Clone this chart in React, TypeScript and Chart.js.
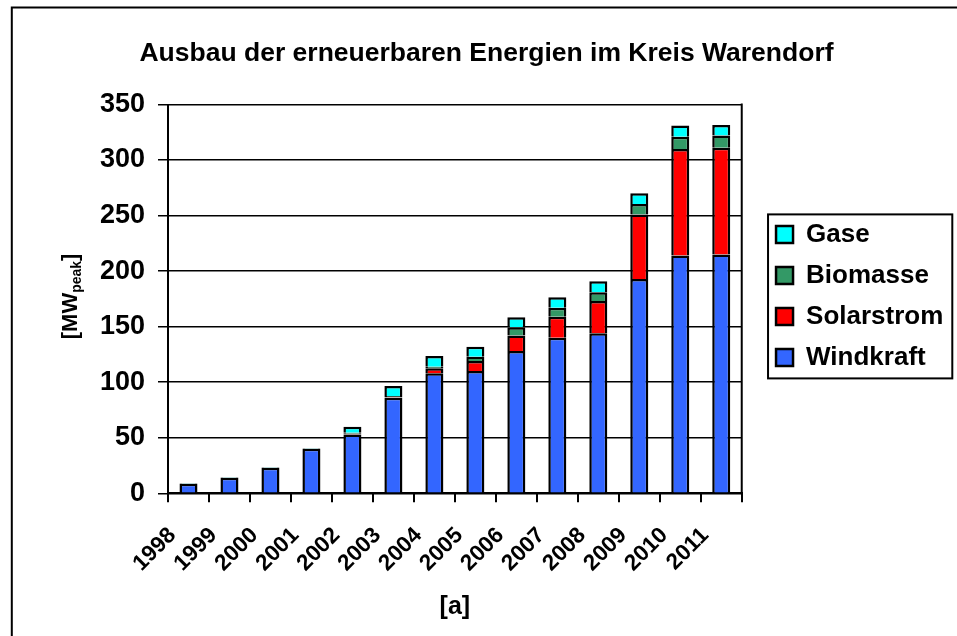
import React, { useEffect, useRef } from "react";
import { Chart, registerables } from "chart.js";

Chart.register(...registerables);

const years = ["1998", "1999", "2000", "2001", "2002", "2003", "2004", "2005", "2006", "2007", "2008", "2009", "2010", "2011"];
const windkraft = [8.5, 14, 23, 40, 53, 86, 108, 110, 128, 140, 144, 193, 214, 215];
const solarstrom = [0, 0, 0, 0, 0.5, 0.5, 4.5, 9, 14, 19, 29, 58, 96, 96];
const biomasse = [0, 0, 0, 0, 1, 1, 1.5, 4, 7.5, 8, 8, 9.5, 11, 11];
const gase = [0.5, 0.5, 0.5, 0.5, 5.5, 9, 9.5, 9, 9, 9.5, 10, 9.5, 10, 9.5];

const titleText = "Ausbau der erneuerbaren Energien im Kreis Warendorf";
const xTitle = "[a]";
const yTitleMain = "[MW";
const yTitleSub = "peak";
const yTitleEnd = "]";

const FONT = '"Liberation Sans", Arial, Helvetica, sans-serif';

const decorPlugin = {
  id: "decor",
  afterLayout(chart: any) {
    const lg = chart.legend;
    if (lg) {
      lg.left += 19.3;
      lg.right += 19.3;
      lg.top -= 3;
      lg.bottom -= 3;
    }
  },
  afterDraw(chart: any) {
    const ctx = chart.ctx as CanvasRenderingContext2D;
    const area = chart.chartArea;
    ctx.save();
    ctx.strokeStyle = "#000";
    // outer frame (top and left visible)
    ctx.lineWidth = 2;
    ctx.beginPath();
    ctx.moveTo(11.8, chart.height + 2);
    ctx.lineTo(11.8, 7.5);
    ctx.lineTo(chart.width + 2, 7.5);
    ctx.stroke();

    // right border of plot area
    ctx.beginPath();
    ctx.moveTo(area.right, area.top - 1);
    ctx.lineTo(area.right, area.bottom + 1);
    ctx.stroke();

    // legend frame
    const boxes = chart.legend && chart.legend.legendHitBoxes ? chart.legend.legendHitBoxes : [];
    if (boxes.length) {
      let l = Infinity, t = Infinity, r = -Infinity, b = -Infinity;
      for (const hb of boxes) {
        l = Math.min(l, hb.left);
        t = Math.min(t, hb.top);
        r = Math.max(r, hb.left + hb.width);
        b = Math.max(b, hb.top + hb.height);
      }
      ctx.lineWidth = 2;
      ctx.strokeRect(l - 8, t - 7, r - l + 17, b - t + 15);
    }

    // y axis title with subscript
    ctx.fillStyle = "#000";
    ctx.textBaseline = "alphabetic";
    ctx.textAlign = "left";
    const mainFont = `bold 22px ${FONT}`;
    const subFont = `bold 14px ${FONT}`;
    ctx.font = mainFont;
    const w1 = ctx.measureText(yTitleMain).width;
    const w3 = ctx.measureText(yTitleEnd).width;
    ctx.font = subFont;
    const w2 = ctx.measureText(yTitleSub).width;
    const total = w1 + w2 + w3;
    const cx = area.left - 91;
    const cy = (area.top + area.bottom) / 2 - 2.5;
    ctx.translate(cx, cy);
    ctx.rotate(-Math.PI / 2);
    const x0 = -total / 2;
    ctx.font = mainFont;
    ctx.fillText(yTitleMain, x0, 0);
    ctx.font = subFont;
    ctx.fillText(yTitleSub, x0 + w1, 4);
    ctx.font = mainFont;
    ctx.fillText(yTitleEnd, x0 + w1 + w2, 0);
    ctx.restore();
  },
};

export default function App() {
  const ref = useRef<HTMLCanvasElement | null>(null);

  useEffect(() => {
    if (!ref.current) return;
    const common = {
      borderColor: "#000",
      borderWidth: 2.5,
      barPercentage: 0.44,
      categoryPercentage: 1,
    };
    const chart = new Chart(ref.current, {
      type: "bar",
      data: {
        labels: years,
        datasets: [
          { label: "Windkraft", data: windkraft, backgroundColor: "#3366FF", ...common },
          { label: "Solarstrom", data: solarstrom, backgroundColor: "#FF0000", ...common },
          { label: "Biomasse", data: biomasse, backgroundColor: "#339966", ...common },
          { label: "Gase", data: gase, backgroundColor: "#00FFFF", ...common },
        ],
      },
      options: {
        animation: false,
        responsive: false,
        events: [],
        color: "#000",
        font: { family: FONT },
        layout: { padding: { left: 39, right: 23, top: 8, bottom: 0 } },
        plugins: {
          tooltip: { enabled: false },
          title: {
            display: true,
            text: titleText,
            color: "#000",
            font: { family: FONT, size: 26.5, weight: "bold" },
            padding: { top: 29.5, bottom: 35.2 },
          },
          legend: {
            position: "right",
            fullSize: false,
            reverse: true,
            labels: {
              boxWidth: 17,
              boxHeight: 17,
              padding: 15,
              color: "#000",
              font: { family: FONT, size: 26, weight: "bold" },
            },
          },
        },
        scales: {
          x: {
            stacked: true,
            offset: true,
            afterFit: (scale: any) => {
              scale.height = 142.7;
            },
            grid: {
              offset: true,
              drawOnChartArea: false,
              drawTicks: true,
              tickLength: 9,
              color: "#000",
              lineWidth: 2,
            },
            border: { display: true, color: "#000", width: 2 },
            ticks: {
              color: "#000",
              minRotation: 45,
              maxRotation: 45,
              padding: 20,
              labelOffset: -16,
              autoSkip: false,
              font: { family: FONT, size: 22.5, weight: "bold" },
            },
            title: {
              display: true,
              text: xTitle,
              color: "#000",
              font: { family: FONT, size: 25, weight: "bold" },
              padding: { top: 0, bottom: 14 },
            },
          },
          y: {
            stacked: true,
            min: 0,
            max: 350,
            afterFit: (scale: any) => {
              scale.width = 129;
            },
            ticks: {
              stepSize: 50,
              color: "#000",
              padding: 13,
              font: { family: FONT, size: 27, weight: "bold" },
            },
            grid: {
              color: "#000",
              lineWidth: 1.5,
              tickLength: 10,
              drawTicks: true,
            },
            border: { display: true, color: "#000", width: 2 },
          },
        },
      } as any,
      plugins: [decorPlugin],
    });
    return () => chart.destroy();
  }, []);

  return (
    <div style={{ position: "absolute", left: 0, top: 0, width: 957, height: 636, background: "#fff" }}>
      <canvas ref={ref} width={957} height={636} style={{ display: "block" }} />
    </div>
  );
}
